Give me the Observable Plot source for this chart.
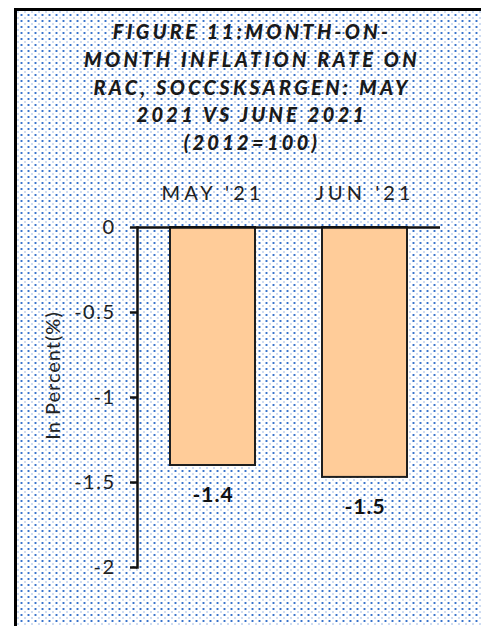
<!DOCTYPE html>
<html>
<head>
<meta charset="utf-8">
<script src="https://cdn.jsdelivr.net/npm/d3@7"></script>
<script src="https://cdn.jsdelivr.net/npm/@observablehq/plot@0.6"></script>
<style>
  html, body { margin: 0; padding: 0; background: #fff; overflow: hidden; width: 481px; height: 626px; }
  #panel {
    position: absolute; left: 14px; top: 8px; width: 520px; height: 660px;
    border-left: 3px solid #000; border-top: 3px solid #000;
    background-color: #fff;
    background-image:
      radial-gradient(circle, #3a74cc 0.9px, rgba(255,255,255,0) 1.3px),
      radial-gradient(circle, #9cb8e4 0.7px, rgba(255,255,255,0) 1.1px);
    background-size: 7px 6px, 7px 6px;
    background-position: 1px 1px, 4.5px 4px;
  }
  #title {
    position: absolute; left: 0; top: 7px; width: 470px;
    text-align: center; font-family: Lato, "Open Sans", sans-serif;
    font-weight: 900; font-style: italic; font-size: 20px; line-height: 27.8px;
    letter-spacing: 3.3px; color: #1a1a1a;
  }
  #chart { position: absolute; left: 0; top: 154px; }
  #chart svg g[aria-label^="y-axis"] { stroke-width: 2.5; }
  #chart svg line[aria-label="frame"] { stroke-width: 2.5px; stroke: #111; }
  #chart svg g[aria-label^="x-axis"] text { font-size: 20px; letter-spacing: 4px; fill: #222; }
  #chart svg g[aria-label^="y-axis"] text { font-size: 20px; letter-spacing: 1.5px; fill: #222; }
</style>
</head>
<body>
<div id="panel">
  <div id="title">FIGURE 11:MONTH-ON-<br>MONTH INFLATION RATE ON<br>RAC, SOCCSKSARGEN: MAY<br>2021 VS JUNE 2021<br>(2012=100)</div>
  <div id="chart"></div>
</div>
<script>
const categories = ["MAY '21", "JUN '21"];
const values = [-1.4, -1.47];
const yTicks = [0, -0.5, -1, -1.5, -2];
const yLabel = "In Percent(%)";

const data = categories.map((c, i) => ({month: c, value: values[i]}));

const chart = Plot.plot({
  width: 464,
  height: 461,
  marginLeft: 120,
  marginRight: 41,
  marginTop: 62,
  marginBottom: 59,
  style: {background: "transparent", fontFamily: "Lato, 'Open Sans', sans-serif", fontSize: "20px", color: "#111"},
  x: {domain: categories, axis: "top", tickSize: 0, tickPadding: 28, paddingInner: 0.444, paddingOuter: 0.216, label: null},
  y: {domain: [-2, 0], ticks: yTicks, tickSize: 7, tickPadding: 15, tickFormat: d => String(d), label: null, line: true},
  marks: [
    Plot.barY(data, {x: "month", y: "value", fill: "#FFCC99", stroke: "#1e1e1e", strokeWidth: 2}),
    Plot.ruleY([0], {stroke: "#111", strokeWidth: 2.5}),
    Plot.text(data, {x: "month", y: "value", text: d => d.value.toFixed(1), dy: 30, fontWeight: "bold", fontSize: 21, fill: "#111"}),
    Plot.text([yLabel], {frameAnchor: "left", textAnchor: "middle", rotate: -90, dx: -84, dy: -22, fontSize: 20, fill: "#222"})
  ]
});
chart.querySelectorAll('g[aria-label="text"] text').forEach(t => t.style.letterSpacing = "1px");
document.getElementById("chart").appendChild(chart);
</script>
</body>
</html>
